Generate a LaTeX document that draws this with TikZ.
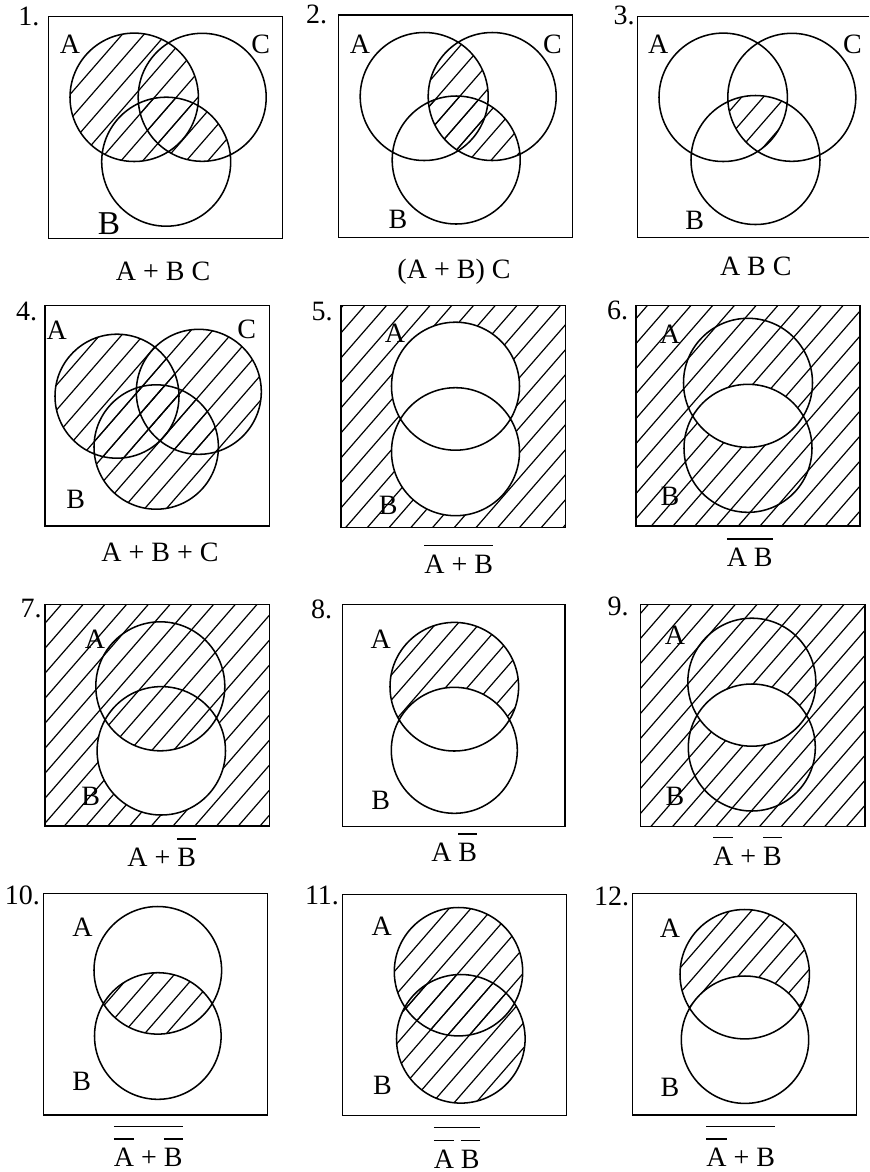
\documentclass[tikz,border=0pt]{standalone}
\usepackage{fontspec}
\setmainfont{Liberation Serif}
\newcommand\ovl[1]{\vbox{\hrule height 1pt\kern 6.5pt\hbox{#1}}}
\newcommand\ovlo[1]{\vbox{\hrule height 1pt\kern 8.5pt\hbox{#1}}}
\newcommand\hatch[4]{%
  \pgfmathtruncatemacro\nmin{floor((#2+1.15*#1)/25)}%
  \pgfmathtruncatemacro\nmax{ceil((#4+1.15*#3)/25)}%
  \foreach \n in {\nmin,...,\nmax}{%
    \draw[hatchline] ({(\n*25-#2)/1.15},#2) -- ({(\n*25-#4)/1.15},#4);
  }%
}
\tikzset{
  every node/.style={font=\fontsize{21}{25}\selectfont, inner sep=0pt},
  frame/.style={line width=1.15pt},
  ring/.style={line width=1.15pt},
  hatchline/.style={line width=0.9pt},
  captxt/.style={anchor=base},
  bigB/.style={font=\fontsize{25}{30}\selectfont}
}
\begin{document}
\begin{tikzpicture}[x=0.75pt,y=-0.75pt]
\useasboundingbox (0,0) rectangle (869,1172);

% ---------- Panel 1: A + BC
\coordinate (p1A) at (134.2,97.3);
\coordinate (p1C) at (202.2,97.3);
\coordinate (p1B) at (166.2,161.7);
\begin{scope}\clip (p1A) circle[radius=64.2]; \hatch{48.3}{16.7}{282.7}{238.3} \end{scope}
\begin{scope}\clip (p1B) circle[radius=64.5]; \clip (p1C) circle[radius=64]; \hatch{48.3}{16.7}{282.7}{238.3} \end{scope}
\draw[frame] (48.3,16.7) rectangle (282.7,238.3);
\draw[ring] (p1A) circle[radius=64.2] (p1C) circle[radius=64] (p1B) circle[radius=64.5];
\node (n1) at (29,16.7) {1.};
\node (a1) at (70,44) {A};
\node (c1) at (260.8,44) {C};
\node[bigB] (b1) at (109,224) {B};
\node[captxt] (t1) at (163,280) {A + B C};

% ---------- Panel 2: (A + B) C
\coordinate (p2A) at (424.2,96.5);
\coordinate (p2C) at (492.2,96.5);
\coordinate (p2B) at (456.2,160);
\begin{scope}\clip (p2C) circle[radius=64]; \clip (p2A) circle[radius=64]; \hatch{338.3}{15}{572.7}{237.3} \end{scope}
\begin{scope}\clip (p2C) circle[radius=64]; \clip (p2B) circle[radius=64]; \hatch{338.3}{15}{572.7}{237.3} \end{scope}
\draw[frame] (338.3,15) rectangle (572.7,237.3);
\draw[ring] (p2A) circle[radius=64] (p2C) circle[radius=64] (p2B) circle[radius=64];
\node (n2) at (316.7,14) {2.};
\node (a2) at (360,44) {A};
\node (c2) at (552.5,44) {C};
\node (b2) at (398,219) {B};
\node[captxt] (t2) at (454,278.3) {(A + B) C};

% ---------- Panel 3: A B C
\coordinate (p3A) at (723.2,97.3);
\coordinate (p3C) at (791.8,97.3);
\coordinate (p3B) at (755.5,160);
\begin{scope}\clip (p3A) circle[radius=64.2]; \clip (p3B) circle[radius=64.5]; \clip (p3C) circle[radius=64]; \hatch{637.7}{16.7}{869}{237.3} \end{scope}
\draw[frame] (869,16.7) -- (637.7,16.7) -- (637.7,237.3) -- (869,237.3);
\draw[ring] (p3A) circle[radius=64.2] (p3C) circle[radius=64] (p3B) circle[radius=64.5];
\node (n3) at (624,15) {3.};
\node (a3) at (658.3,44) {A};
\node (c3) at (852.5,44) {C};
\node (b3) at (694.7,220) {B};
\node[captxt] (t3) at (755.8,275) {A B C};

% ---------- Panel 4: A + B + C
\coordinate (p4A) at (117,396.2);
\coordinate (p4C) at (198.8,391.8);
\coordinate (p4B) at (156.2,447);
\begin{scope}\clip (p4A) circle[radius=62]; \hatch{45}{305.7}{269.3}{526} \end{scope}
\begin{scope}\clip (p4B) circle[radius=62.2]; \hatch{45}{305.7}{269.3}{526} \end{scope}
\begin{scope}\clip (p4C) circle[radius=62.5]; \hatch{45}{305.7}{269.3}{526} \end{scope}
\draw[frame] (45,305.7) rectangle (269.3,526);
\draw[ring] (p4A) circle[radius=62] (p4C) circle[radius=62.5] (p4B) circle[radius=62.2];
\node (n4) at (26.7,311.7) {4.};
\node (a4) at (56.7,330.5) {A};
\node (c4) at (246.7,329) {C};
\node (b4) at (75.8,499) {B};
\node[captxt] (t4) at (160,561.7) {A + B + C};

% ---------- Panel 5: not (A + B)
\coordinate (p5A) at (455.5,386.2);
\coordinate (p5B) at (455.5,451.7);
\begin{scope}\clip (341,305.7) rectangle (565.7,527.7); \hatch{341}{305.7}{565.7}{527.7} \end{scope}
\fill[white] (p5A) circle[radius=64] (p5B) circle[radius=64];
\draw[frame] (341,305.7) rectangle (565.7,527.7);
\draw[ring] (p5A) circle[radius=64] (p5B) circle[radius=64];
\node (n5) at (322,311.7) {5.};
\node (a5) at (395,333.3) {A};
\node (b5) at (388.3,505) {B};
\node[captxt] (t5) at (458.7,573.3) {\ovl{A + B}};

% ---------- Panel 6: not (A B)
\coordinate (p6A) at (748,382.8);
\coordinate (p6B) at (748,448.3);
\begin{scope}\clip (636,305.7) rectangle (860,526); \hatch{636}{305.7}{860}{526} \end{scope}
\begin{scope}\clip (p6A) circle[radius=64.5]; \fill[white] (p6B) circle[radius=64]; \end{scope}
\draw[frame] (636,305.7) rectangle (860,526);
\draw[ring] (p6A) circle[radius=64.5] (p6B) circle[radius=64];
\node (n6) at (617.5,310.8) {6.};
\node (a6) at (670,334.5) {A};
\node (b6) at (670,496.7) {B};
\node[captxt] (t6) at (749.7,566.7) {\ovl{A B}};

% ---------- Panel 7: A + not B
\coordinate (p7A) at (160.3,686.3);
\coordinate (p7B) at (161.3,750.8);
\begin{scope}\clip (45,604.3) rectangle (269.3,826); \hatch{45}{604.3}{269.3}{826} \end{scope}
\begin{scope}\clip (p7B) circle[radius=64.2]; \fill[white,even odd rule] (40,600) rectangle (275,830) (p7A) circle[radius=64.5]; \end{scope}
\draw[frame] (45,604.3) rectangle (269.3,826);
\draw[ring] (p7A) circle[radius=64.5] (p7B) circle[radius=64.2];
\node (n7) at (31,609) {7.};
\node (a7) at (95,639) {A};
\node (b7) at (90.8,796.7) {B};
\node[captxt] (t7) at (161.7,866.7) {A + \ovl{B}};

% ---------- Panel 8: A not B
\coordinate (p8A) at (454.3,686.7);
\coordinate (p8B) at (454.3,750.3);
\begin{scope}\clip (p8A) circle[radius=64.3]; \hatch{342.7}{604.3}{565}{826.7} \fill[white] (p8B) circle[radius=63]; \end{scope}
\draw[frame] (342.7,604.3) rectangle (565,826.7);
\draw[ring] (p8A) circle[radius=64.3] (p8B) circle[radius=63];
\node (n8) at (321.7,609) {8.};
\node (a8) at (380.8,639) {A};
\node (b8) at (380.8,800.8) {B};
\node[captxt] (t8) at (454.2,861.7) {A \ovl{B}};

% ---------- Panel 9: not A + not B
\coordinate (p9A) at (751.8,682.2);
\coordinate (p9B) at (751.8,747.5);
\begin{scope}\clip (640.7,604.3) rectangle (865,826.7); \hatch{640.7}{604.3}{865}{826.7} \end{scope}
\begin{scope}\clip (p9A) circle[radius=64]; \fill[white] (p9B) circle[radius=63.5]; \end{scope}
\draw[frame] (640.7,604.3) rectangle (865,826.7);
\draw[ring] (p9A) circle[radius=64] (p9B) circle[radius=63.5];
\node (n9) at (618,606) {9.};
\node (a9) at (675,635) {A};
\node (b9) at (675,796.7) {B};
\node[captxt] (t9) at (747.5,865) {\ovl{A} + \ovl{B}};

% ---------- Panel 10: not(not A + not B)
\coordinate (p10A) at (157.8,970.3);
\coordinate (p10B) at (157.8,1036);
\begin{scope}\clip (p10A) circle[radius=63.8]; \clip (p10B) circle[radius=63.3]; \hatch{43.3}{893.3}{267.3}{1115} \end{scope}
\draw[frame] (43.3,893.3) rectangle (267.3,1115);
\draw[ring] (p10A) circle[radius=63.8] (p10B) circle[radius=63.3];
\node (n10) at (22.5,895) {10.};
\node (a10) at (82.5,927.5) {A};
\node (b10) at (81.7,1081) {B};
\node[captxt] (t10) at (148.3,1166.7) {\ovlo{\ovl{A} + \ovl{B}}};

% ---------- Panel 11: not(not A not B)
\coordinate (p11A) at (458.5,971.7);
\coordinate (p11B) at (460.8,1038.8);
\begin{scope}\clip (p11A) circle[radius=64.2]; \hatch{342.7}{894.3}{566.7}{1115.7} \end{scope}
\begin{scope}\clip (p11B) circle[radius=64.3]; \hatch{342.7}{894.3}{566.7}{1115.7} \end{scope}
\draw[frame] (342.7,894.3) rectangle (566.7,1115.7);
\draw[ring] (p11A) circle[radius=64.2] (p11B) circle[radius=64.3];
\node (n11) at (322,895) {11.};
\node (a11) at (381.7,925.8) {A};
\node (b11) at (382.5,1085.8) {B};
\node[captxt] (t11) at (456.7,1168) {\ovlo{\ovl{A} \ovl{B}}};

% ---------- Panel 12: not(not A + B)
\coordinate (p12A) at (744.7,974.2);
\coordinate (p12B) at (745,1039.7);
\begin{scope}\clip (p12A) circle[radius=64.7]; \hatch{632.7}{893.3}{856.7}{1115} \fill[white] (p12B) circle[radius=63.7]; \end{scope}
\draw[frame] (632.7,893.3) rectangle (856.7,1115);
\draw[ring] (p12A) circle[radius=64.7] (p12B) circle[radius=63.7];
\node (n12) at (611.7,896) {12.};
\node (a12) at (670,928.3) {A};
\node (b12) at (670,1087.5) {B};
\node[captxt] (t12) at (740.8,1166.7) {\ovlo{\ovl{A} + B}};
\end{tikzpicture}
\end{document}
